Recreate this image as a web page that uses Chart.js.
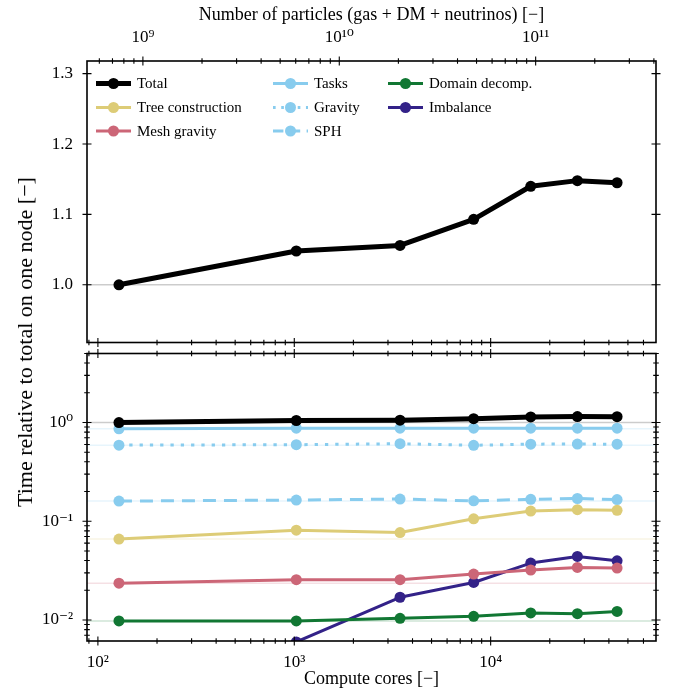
<!DOCTYPE html>
<html>
<head>
<meta charset="utf-8">
<script src="https://cdn.jsdelivr.net/npm/chart.js@4.4.1/dist/chart.umd.min.js"></script>
<style>
  html, body { margin: 0; padding: 0; background: #fff; }
  #wrap { position: relative; width: 676px; height: 692px; }
  #topChart { position: absolute; left: 0; top: 0; }
  #botChart { position: absolute; left: 0; top: 348px; }
  #ylab {
    position: absolute; left: 25px; top: 342px;
    transform: translate(-50%, -50%) rotate(-90deg);
    white-space: nowrap; font: 22px 'Liberation Serif', serif; color: #000;
  }
</style>
</head>
<body>
<div id="wrap">
  <canvas id="topChart" width="676" height="348"></canvas>
  <canvas id="botChart" width="676" height="344"></canvas>
  <div id="ylab">Time relative to total on one node [−]</div>
</div>
<script>
const FONT = "'Liberation Serif', 'DejaVu Serif', serif";

// compute cores of each run
const cores = [128, 1024, 3456, 8192, 16000, 27648, 44032];

// time relative to the total on one node
const total     = [1.000, 1.048, 1.056, 1.093, 1.140, 1.148, 1.145];
const treeBuild = [0.0661, 0.0812, 0.0768, 0.106, 0.127, 0.131, 0.129];
const meshGrav  = [0.0236, 0.0256, 0.0256, 0.0292, 0.0321, 0.0341, 0.0336];
const tasks     = [0.864, 0.876, 0.876, 0.876, 0.876, 0.876, 0.876];
const gravity   = [0.590, 0.596, 0.610, 0.588, 0.604, 0.605, 0.603];
const sph       = [0.160, 0.164, 0.168, 0.161, 0.167, 0.170, 0.166];
const domain    = [0.0098, 0.0098, 0.0104, 0.0109, 0.0118, 0.0116, 0.0122];
const imbalance = [null, 0.0060, 0.0170, 0.0240, 0.0377, 0.0440, 0.0398];

const coreTicks = [1e2, 1e3, 1e4];
const particleTicks = [1e9, 1e10, 1e11];
const topYTicks = [1.0, 1.1, 1.2, 1.3];
const botYTicks = [1e-2, 1e-1, 1e0];

const particlesPerCore = 5.9e6;
const coreMin = 88, coreMax = 69500;

// label, values, colour, dash, width, legend column/row
const series = [
  ['Total', total, '#000000', [], 5, 0, 0],
  ['Tree construction', treeBuild, '#DDCC77', [], 3, 0, 1],
  ['Mesh gravity', meshGrav, '#CC6677', [], 3, 0, 2],
  ['Tasks', tasks, '#88CCEE', [], 3, 1, 0],
  ['Gravity', gravity, '#88CCEE', [3.3, 7], 3, 1, 1],
  ['SPH', sph, '#88CCEE', [13, 8], 3, 1, 2],
  ['Domain decomp.', domain, '#117733', [], 3, 2, 0],
  ['Imbalance', imbalance, '#332288', [], 3, 2, 1]
];

const supDigits = {'0':'⁰','1':'¹','2':'²','3':'³','4':'⁴','5':'⁵','6':'⁶','7':'⁷','8':'⁸','9':'⁹','-':'⁻'};
function pow10Label(v) {
  const e = String(Math.round(Math.log10(v)));
  return '10' + e.split('').map(c => supDigits[c]).join('');
}

function makeDataset(s, r) {
  return {
    label: s[0],
    data: cores.map((c, i) => ({x: c, y: s[1][i]})),
    borderColor: s[2], backgroundColor: s[2],
    borderDash: s[3], borderWidth: s[4],
    pointRadius: r, pointHoverRadius: r, pointBorderWidth: 0,
    borderJoinStyle: 'round', tension: 0, spanGaps: false
  };
}

function logTicks(min, max) {
  const out = [];
  for (let e = Math.floor(Math.log10(min)); e <= Math.ceil(Math.log10(max)); e++) {
    for (let m = 1; m <= 9; m++) {
      const v = m * Math.pow(10, e);
      if (v >= min && v <= max) out.push({v: v, major: m === 1});
    }
  }
  return out;
}
function scaleTicks(scale) {
  if (scale.type === 'logarithmic') return logTicks(scale.min, scale.max);
  return scale.ticks.map(t => ({v: t.value, major: true}));
}

// frame with inout ticks on every side
function framePlugin(sides) {
  return {
    id: 'frame',
    afterDraw(chart) {
      const {ctx, chartArea: a} = chart;
      ctx.save();
      ctx.strokeStyle = '#000';
      ctx.lineWidth = 1.1;
      ctx.beginPath();
      for (const side of ['top', 'bottom', 'left', 'right']) {
        const sc = chart.scales[sides[side]];
        for (const t of scaleTicks(sc)) {
          const p = sc.getPixelForValue(t.v);
          const len = t.major ? 4.5 : 2.8;
          if (side === 'top' || side === 'bottom') {
            const y = side === 'top' ? a.top : a.bottom;
            ctx.moveTo(p, y - len); ctx.lineTo(p, y + len);
          } else {
            const x = side === 'left' ? a.left : a.right;
            ctx.moveTo(x - len, p); ctx.lineTo(x + len, p);
          }
        }
      }
      ctx.stroke();
      ctx.lineWidth = 1.6;
      ctx.strokeRect(a.left, a.top, a.right - a.left, a.bottom - a.top);
      ctx.restore();
    }
  };
}

// faint line at each series' one-node value
function refLinePlugin(list) {
  return {
    id: 'refLines',
    beforeDatasetsDraw(chart) {
      const {ctx, chartArea: a} = chart;
      const y = chart.scales.y;
      ctx.save();
      ctx.lineWidth = 1.5;
      ctx.globalAlpha = 0.2;
      for (const s of list) {
        const v = s[1][0];
        if (v === null || v < y.min || v > y.max) continue;
        const p = y.getPixelForValue(v);
        ctx.strokeStyle = s[2];
        ctx.beginPath();
        ctx.moveTo(a.left, p); ctx.lineTo(a.right, p);
        ctx.stroke();
      }
      ctx.restore();
    }
  };
}

const legendCols = [96, 273, 388];
const legendRows = [83.5, 107.5, 131];
const legendPlugin = {
  id: 'innerLegend',
  afterDraw(chart) {
    const ctx = chart.ctx;
    ctx.save();
    ctx.font = '15px ' + FONT;
    ctx.textBaseline = 'middle';
    ctx.fillStyle = '#000';
    for (const s of series) {
      const x0 = legendCols[s[5]], y0 = legendRows[s[6]];
      ctx.strokeStyle = s[2];
      ctx.lineWidth = s[4];
      ctx.setLineDash(s[3].map(d => d * 0.8));
      ctx.beginPath();
      ctx.moveTo(x0, y0); ctx.lineTo(x0 + 35, y0);
      ctx.stroke();
      ctx.setLineDash([]);
      ctx.fillStyle = s[2];
      ctx.beginPath();
      ctx.arc(x0 + 17.5, y0, 5.5, 0, Math.PI * 2);
      ctx.fill();
      ctx.fillStyle = '#000';
      ctx.fillText(s[0], x0 + 41, y0 + 1);
    }
    ctx.restore();
  }
};

const tickFont = {family: FONT, size: 17};
const titleFont = {family: FONT, size: 18};

function fixY(width) {
  return s => { s.width = width; s.paddingTop = 0; s.paddingBottom = 0; };
}
function fixX(height) {
  return s => { s.height = height; s.paddingLeft = 0; s.paddingRight = 0; };
}

new Chart(document.getElementById('topChart'), {
  type: 'line',
  data: { datasets: [makeDataset(series[0], 5.5)] },
  options: {
    responsive: false,
    animation: false,
    layout: { padding: {left: 0, right: 20, top: 0, bottom: 3} },
    plugins: { legend: {display: false}, tooltip: {enabled: false} },
    scales: {
      x: { type: 'logarithmic', display: false, min: coreMin, max: coreMax },
      xTop: {
        type: 'logarithmic', position: 'top',
        min: coreMin * particlesPerCore, max: coreMax * particlesPerCore,
        grid: {display: false, drawTicks: false}, border: {display: false},
        afterBuildTicks: s => { s.ticks = particleTicks.map(v => ({value: v})); },
        ticks: { font: tickFont, color: '#000', padding: 13, maxRotation: 0, autoSkip: false, callback: v => pow10Label(v) },
        title: { display: true, text: 'Number of particles (gas + DM + neutrinos) [−]', font: titleFont, color: '#000', padding: {top: 4, bottom: 0} },
        afterFit: fixX(61)
      },
      y: {
        type: 'linear', min: 0.918, max: 1.318,
        grid: {display: false, drawTicks: false}, border: {display: false},
        afterBuildTicks: s => { s.ticks = topYTicks.map(v => ({value: v})); },
        ticks: { font: tickFont, color: '#000', padding: 14, callback: v => v.toFixed(1) },
        afterFit: fixY(87)
      }
    }
  },
  plugins: [refLinePlugin([series[0]]), framePlugin({top: 'xTop', bottom: 'x', left: 'y', right: 'y'}), legendPlugin]
});

new Chart(document.getElementById('botChart'), {
  type: 'line',
  data: { datasets: series.map(s => makeDataset(s, 5.5)) },
  options: {
    responsive: false,
    animation: false,
    layout: { padding: {left: 0, right: 20, top: 4, bottom: 0} },
    plugins: { legend: {display: false}, tooltip: {enabled: false} },
    scales: {
      x: {
        type: 'logarithmic', min: coreMin, max: coreMax,
        grid: {display: false, drawTicks: false}, border: {display: false},
        afterBuildTicks: s => { s.ticks = coreTicks.map(v => ({value: v})); },
        ticks: { font: tickFont, color: '#000', padding: 11, maxRotation: 0, autoSkip: false, callback: v => pow10Label(v) },
        title: { display: true, text: 'Compute cores [−]', font: titleFont, color: '#000', padding: {top: 0, bottom: 2} },
        afterFit: fixX(51)
      },
      y: {
        type: 'logarithmic', min: 0.00613, max: 5.0,
        grid: {display: false, drawTicks: false}, border: {display: false},
        afterBuildTicks: s => { s.ticks = botYTicks.map(v => ({value: v})); },
        ticks: { font: tickFont, color: '#000', padding: 14, callback: v => pow10Label(v) },
        afterFit: fixY(87)
      }
    }
  },
  plugins: [refLinePlugin(series), framePlugin({top: 'x', bottom: 'x', left: 'y', right: 'y'})]
});
</script>
</body>
</html>
